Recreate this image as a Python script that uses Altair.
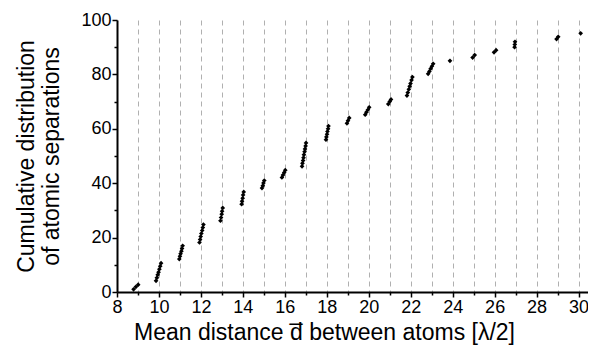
import altair as alt
import pandas as pd

# Mean distance (x) and cumulative distribution (y) for each atomic separation
dist = [
    8.79, 8.90, 9.01,
    9.86, 9.90, 9.94, 9.98, 10.02, 10.06, 10.10,
    10.97, 11.00, 11.03, 11.07, 11.10, 11.13,
    11.93, 11.96, 11.99, 12.02, 12.06, 12.09, 12.12,
    12.93, 12.96, 12.99, 13.01, 13.04,
    13.94, 13.96, 13.99, 14.01, 14.04,
    14.91, 14.95, 14.98, 15.02,
    15.86, 15.91, 15.97, 16.02,
    16.82, 16.84, 16.87, 16.89, 16.91, 16.94, 16.96, 16.99, 17.01,
    17.96, 17.98, 18.01, 18.03, 18.06, 18.08,
    18.96, 19.01, 19.07,
    19.83, 19.89, 19.96, 20.02,
    20.93, 21.00, 21.06,
    21.82, 21.86, 21.91, 21.95, 21.99, 22.04, 22.08,
    22.83, 22.89, 22.95, 23.01, 23.07,
    23.87,
    24.95, 25.05,
    25.97, 26.07,
    26.95, 26.96, 26.97,
    28.95, 29.03,
    30.10,
]
cum = [
    1.0, 1.9, 2.7,
    4.1, 5.2, 6.3, 7.3, 8.4, 9.5, 10.6,
    12.1, 13.1, 14.1, 15.0, 16.0, 17.0,
    18.2, 19.3, 20.4, 21.5, 22.6, 23.7, 24.8,
    26.2, 27.4, 28.6, 29.7, 30.9,
    32.3, 33.4, 34.5, 35.7, 36.8,
    38.2, 39.1, 40.1, 41.0,
    42.1, 43.0, 43.9, 44.8,
    46.2, 47.3, 48.3, 49.4, 50.5, 51.6, 52.6, 53.7, 54.8,
    56.0, 57.0, 58.0, 59.0, 60.0, 61.0,
    62.0, 63.0, 64.0,
    65.2, 66.1, 67.0, 67.9,
    69.1, 70.0, 70.8,
    72.2, 73.3, 74.5, 75.6, 76.7, 77.9, 79.0,
    80.2, 81.1, 82.1, 83.0, 83.9,
    85.0,
    86.2, 87.1,
    88.1, 88.9,
    90.0, 91.0, 92.0,
    93.0, 93.8,
    95.1,
]

x_ticks = list(range(8, 31))
y_ticks = list(range(0, 101, 10))

df = pd.DataFrame({"d": dist, "c": cum})

FONT = "Liberation Sans"

x_axis = alt.Axis(
    values=x_ticks,
    labelExpr="datum.value % 2 == 0 ? datum.label : ''",
    labelOverlap=False,
    labelFlush=False,
    labelFont=FONT,
    labelFontSize=18,
    labelColor="black",
    labelPadding=1,
    tickColor="black",
    tickWidth=1.5,
    tickSize={"condition": {"test": "datum.value % 2 == 0", "value": 5}, "value": 3},
    domainColor="black",
    domainWidth=2,
    grid=True,
    gridColor="#b0b0b0",
    gridDash=[5, 4],
    gridWidth=1,
    title="Mean distance d\u0305 between atoms [λ/2]",
    titleFont=FONT,
    titleFontSize=23,
    titleFontWeight="normal",
    titleColor="black",
    titleX=207,
    titleY=47,
    titleAlign="center",
    titleBaseline="alphabetic",
)

y_axis = alt.Axis(
    values=y_ticks,
    labelExpr="datum.value % 20 == 0 ? datum.label : ''",
    labelOverlap=False,
    labelFlush=False,
    labelFont=FONT,
    labelFontSize=18,
    labelColor="black",
    labelPadding=1,
    tickColor="black",
    tickWidth=1.5,
    tickSize={"condition": {"test": "datum.value % 20 == 0", "value": 5}, "value": 3},
    domainColor="black",
    domainWidth=2,
    grid=False,
    title=["Cumulative distribution", "of atomic separations"],
    titleFont=FONT,
    titleFontSize=23,
    titleFontWeight="normal",
    titleColor="black",
    titleAngle=-90,
    titleX=-84,
    titleY=136,
    titleAlign="center",
    titleBaseline="alphabetic",
    titleLineHeight=25,
)

chart = (
    alt.Chart(df)
    .mark_point(shape="diamond", filled=True, size=22, color="black", opacity=1)
    .encode(
        x=alt.X("d:Q", scale=alt.Scale(domain=[8, 30.45], nice=False, zero=False), axis=x_axis),
        y=alt.Y("c:Q", scale=alt.Scale(domain=[0, 100], nice=False), axis=y_axis),
    )
    .properties(
        width=471,
        height=272,
        autosize=alt.AutoSizeParams(type="none"),
        padding={"left": 109, "top": 12, "right": 0, "bottom": 60},
    )
    .configure_view(strokeWidth=0)
)

chart.save("out.html", embed_options={"renderer": "svg", "actions": False})
